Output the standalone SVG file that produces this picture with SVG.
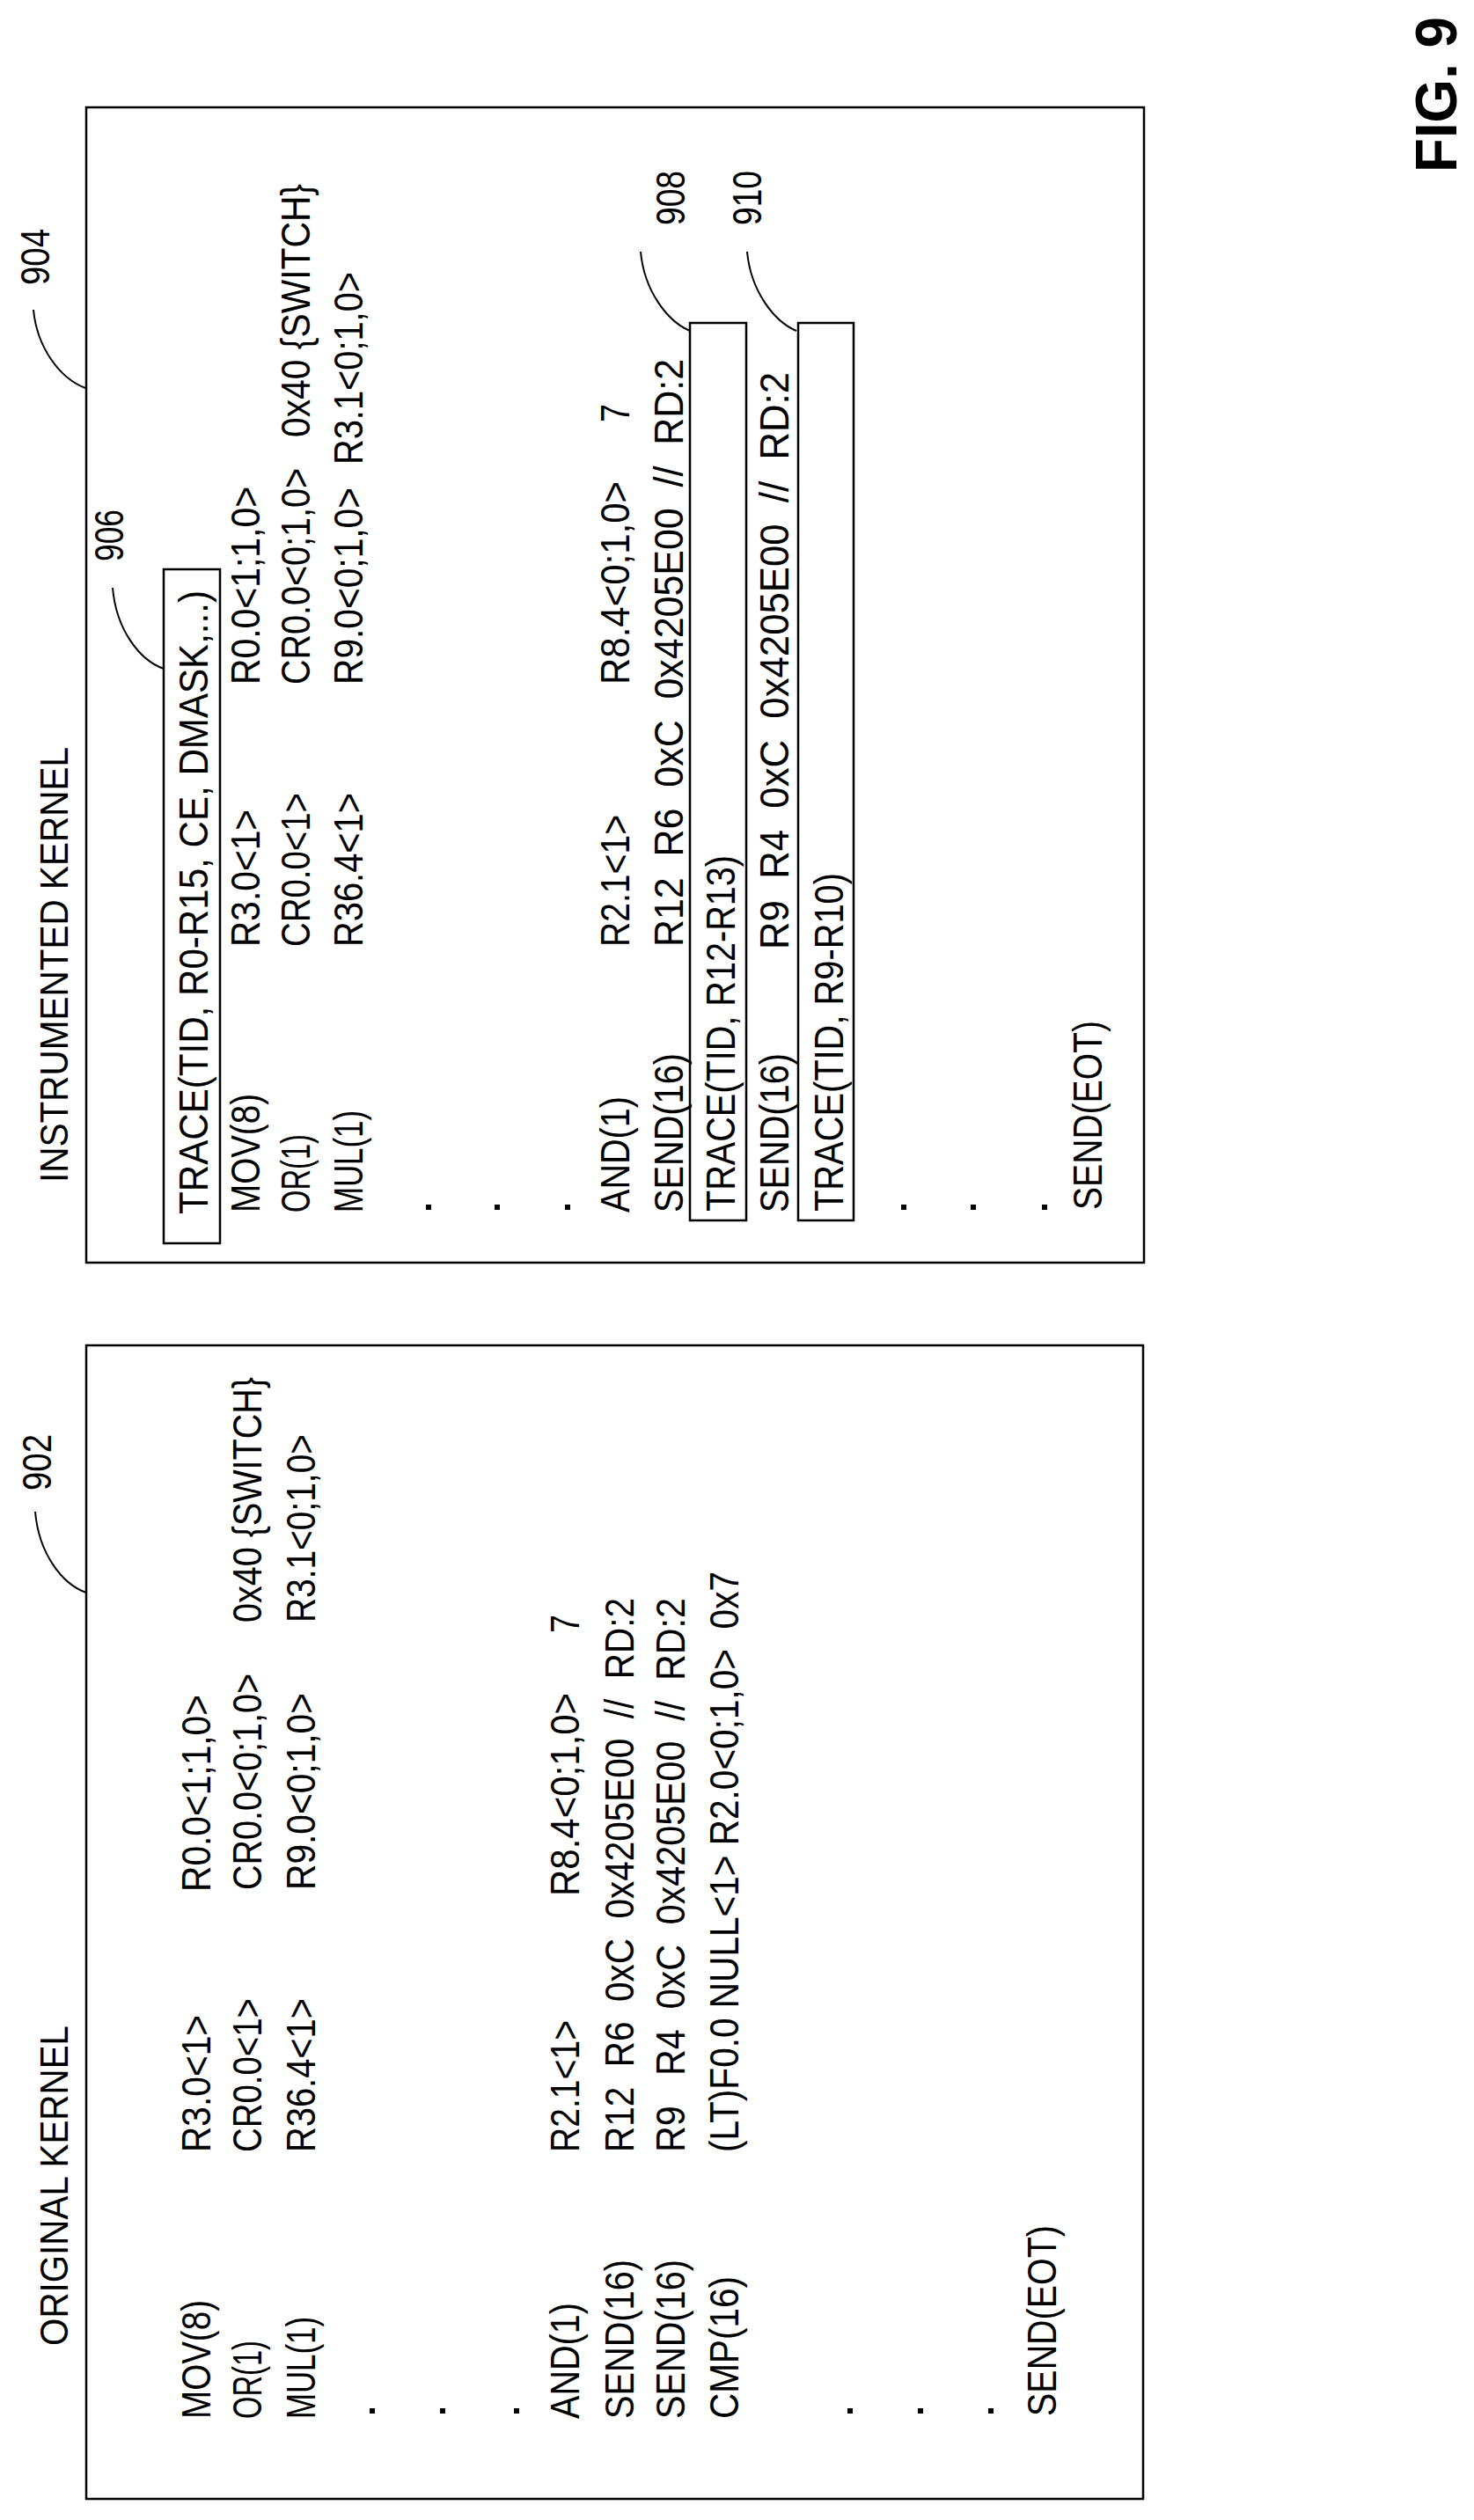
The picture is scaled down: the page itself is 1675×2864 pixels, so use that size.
<svg xmlns="http://www.w3.org/2000/svg" width="1675" height="2864" viewBox="0 0 1675 2864">
<style>
text{font-family:"Liberation Sans",Arial,sans-serif;font-size:46px;fill:#000}
.t{font-size:44px}
.fig{font-size:66px;font-weight:bold}
.box{fill:none;stroke:#000;stroke-width:2.5}
.hl{fill:none;stroke:#000;stroke-width:2.5}
.lead{fill:none;stroke:#000;stroke-width:2}
.dot{fill:#000}
</style>
<rect width="1675" height="2864" fill="#fff"/>

<g id="original-kernel">
<rect class="box" x="98" y="1529" width="1201" height="1311"/>
<text class="t" transform="translate(77,2666) rotate(-90)" textLength="364" lengthAdjust="spacingAndGlyphs">ORIGINAL KERNEL</text>
<text transform="translate(239,2749) rotate(-90)" textLength="135" lengthAdjust="spacingAndGlyphs">MOV(8)</text>
<text transform="translate(297,2749) rotate(-90)" textLength="89" lengthAdjust="spacingAndGlyphs">OR(1)</text>
<text transform="translate(358,2749) rotate(-90)" textLength="116" lengthAdjust="spacingAndGlyphs">MUL(1)</text>
<text transform="translate(658,2749) rotate(-90)" textLength="132" lengthAdjust="spacingAndGlyphs">AND(1)</text>
<text transform="translate(720,2749) rotate(-90)" textLength="181" lengthAdjust="spacingAndGlyphs">SEND(16)</text>
<text transform="translate(778,2749) rotate(-90)" textLength="181" lengthAdjust="spacingAndGlyphs">SEND(16)</text>
<text transform="translate(839,2749) rotate(-90)" textLength="162" lengthAdjust="spacingAndGlyphs">CMP(16)</text>
<text transform="translate(1200,2746) rotate(-90)" textLength="217" lengthAdjust="spacingAndGlyphs">SEND(EOT)</text>
<text transform="translate(239,2446) rotate(-90)" textLength="156" lengthAdjust="spacingAndGlyphs">R3.0&lt;1&gt;</text>
<text transform="translate(297,2446) rotate(-90)" textLength="175" lengthAdjust="spacingAndGlyphs">CR0.0&lt;1&gt;</text>
<text transform="translate(358,2446) rotate(-90)" textLength="175" lengthAdjust="spacingAndGlyphs">R36.4&lt;1&gt;</text>
<text transform="translate(658,2446) rotate(-90)" textLength="150" lengthAdjust="spacingAndGlyphs">R2.1&lt;1&gt;</text>
<text transform="translate(720,2446) rotate(-90)" textLength="630" lengthAdjust="spacingAndGlyphs" xml:space="preserve">R12  R6  0xC  0x4205E00  //  RD:2</text>
<text transform="translate(778,2446) rotate(-90)" textLength="630" lengthAdjust="spacingAndGlyphs" xml:space="preserve">R9   R4  0xC  0x4205E00  //  RD:2</text>
<text transform="translate(839,2446) rotate(-90)" textLength="660" lengthAdjust="spacingAndGlyphs" xml:space="preserve">(LT)F0.0 NULL&lt;1&gt; R2.0&lt;0;1,0&gt;  0x7</text>
<text transform="translate(239,2150) rotate(-90)" textLength="224" lengthAdjust="spacingAndGlyphs">R0.0&lt;1;1,0&gt;</text>
<text transform="translate(297,2148) rotate(-90)" textLength="246" lengthAdjust="spacingAndGlyphs">CR0.0&lt;0;1,0&gt;</text>
<text transform="translate(358,2148) rotate(-90)" textLength="224" lengthAdjust="spacingAndGlyphs">R9.0&lt;0;1,0&gt;</text>
<text transform="translate(658,2155) rotate(-90)" textLength="231" lengthAdjust="spacingAndGlyphs">R8.4&lt;0;1,0&gt;</text>
<text transform="translate(297,1844) rotate(-90)" textLength="279" lengthAdjust="spacingAndGlyphs">0x40 {SWITCH}</text>
<text transform="translate(358,1844) rotate(-90)" textLength="214" lengthAdjust="spacingAndGlyphs">R3.1&lt;0;1,0&gt;</text>
<text transform="translate(658,1856) rotate(-90)" textLength="21" lengthAdjust="spacingAndGlyphs">7</text>
<rect class="dot" x="420" y="2737" width="6" height="6"/>
<rect class="dot" x="500" y="2737" width="6" height="6"/>
<rect class="dot" x="584" y="2737" width="6" height="6"/>
<rect class="dot" x="963" y="2737" width="6" height="6"/>
<rect class="dot" x="1043" y="2737" width="6" height="6"/>
<rect class="dot" x="1123" y="2737" width="6" height="6"/>
</g>

<g id="instrumented-kernel">
<rect class="box" x="98" y="122" width="1202" height="1313"/>
<text class="t" transform="translate(77,1344) rotate(-90)" textLength="495" lengthAdjust="spacingAndGlyphs">INSTRUMENTED KERNEL</text>
<text transform="translate(295,1378) rotate(-90)" textLength="135" lengthAdjust="spacingAndGlyphs">MOV(8)</text>
<text transform="translate(352,1378) rotate(-90)" textLength="89" lengthAdjust="spacingAndGlyphs">OR(1)</text>
<text transform="translate(412,1378) rotate(-90)" textLength="116" lengthAdjust="spacingAndGlyphs">MUL(1)</text>
<text transform="translate(715,1378) rotate(-90)" textLength="132" lengthAdjust="spacingAndGlyphs">AND(1)</text>
<text transform="translate(776,1378) rotate(-90)" textLength="181" lengthAdjust="spacingAndGlyphs">SEND(16)</text>
<text transform="translate(896,1378) rotate(-90)" textLength="181" lengthAdjust="spacingAndGlyphs">SEND(16)</text>
<text transform="translate(1252,1375) rotate(-90)" textLength="215" lengthAdjust="spacingAndGlyphs">SEND(EOT)</text>
<text transform="translate(295,1076) rotate(-90)" textLength="156" lengthAdjust="spacingAndGlyphs">R3.0&lt;1&gt;</text>
<text transform="translate(352,1076) rotate(-90)" textLength="175" lengthAdjust="spacingAndGlyphs">CR0.0&lt;1&gt;</text>
<text transform="translate(412,1076) rotate(-90)" textLength="175" lengthAdjust="spacingAndGlyphs">R36.4&lt;1&gt;</text>
<text transform="translate(715,1076) rotate(-90)" textLength="150" lengthAdjust="spacingAndGlyphs">R2.1&lt;1&gt;</text>
<text transform="translate(776,1076) rotate(-90)" textLength="668" lengthAdjust="spacingAndGlyphs" xml:space="preserve">R12  R6  0xC  0x4205E00  //  RD:2</text>
<text transform="translate(896,1079) rotate(-90)" textLength="656" lengthAdjust="spacingAndGlyphs" xml:space="preserve">R9  R4  0xC  0x4205E00  //  RD:2</text>
<text transform="translate(295,778) rotate(-90)" textLength="225" lengthAdjust="spacingAndGlyphs">R0.0&lt;1;1,0&gt;</text>
<text transform="translate(352,778) rotate(-90)" textLength="246" lengthAdjust="spacingAndGlyphs">CR0.0&lt;0;1,0&gt;</text>
<text transform="translate(412,778) rotate(-90)" textLength="224" lengthAdjust="spacingAndGlyphs">R9.0&lt;0;1,0&gt;</text>
<text transform="translate(715,778) rotate(-90)" textLength="231" lengthAdjust="spacingAndGlyphs">R8.4&lt;0;1,0&gt;</text>
<text transform="translate(352,497) rotate(-90)" textLength="288" lengthAdjust="spacingAndGlyphs">0x40 {SWITCH}</text>
<text transform="translate(412,528) rotate(-90)" textLength="219" lengthAdjust="spacingAndGlyphs">R3.1&lt;0;1,0&gt;</text>
<text transform="translate(715,480) rotate(-90)" textLength="21" lengthAdjust="spacingAndGlyphs">7</text>
<rect class="dot" x="484" y="1369" width="6" height="6"/>
<rect class="dot" x="562" y="1369" width="6" height="6"/>
<rect class="dot" x="642" y="1369" width="6" height="6"/>
<rect class="dot" x="1024" y="1369" width="6" height="6"/>
<rect class="dot" x="1103" y="1369" width="6" height="6"/>
<rect class="dot" x="1184" y="1369" width="6" height="6"/>
</g>

<g id="trace-906">
<rect class="hl" x="186" y="647" width="64" height="766"/>
<text transform="translate(236,1380) rotate(-90)" textLength="709" lengthAdjust="spacingAndGlyphs">TRACE(TID, R0-R15, CE, DMASK,...)</text>
</g>
<g id="trace-908">
<rect class="hl" x="784" y="367" width="64" height="1020"/>
<text transform="translate(835,1377) rotate(-90)" textLength="405" lengthAdjust="spacingAndGlyphs">TRACE(TID, R12-R13)</text>
</g>
<g id="trace-910">
<rect class="hl" x="907" y="367" width="63" height="1020"/>
<text transform="translate(958,1377) rotate(-90)" textLength="385" lengthAdjust="spacingAndGlyphs">TRACE(TID, R9-R10)</text>
</g>

<g id="labels">
<text transform="translate(58,1694) rotate(-90)" textLength="64" lengthAdjust="spacingAndGlyphs">902</text>
<text transform="translate(56,324) rotate(-90)" textLength="64" lengthAdjust="spacingAndGlyphs">904</text>
<text transform="translate(140,638) rotate(-90)" textLength="59" lengthAdjust="spacingAndGlyphs">906</text>
<text transform="translate(778,256) rotate(-90)" textLength="62" lengthAdjust="spacingAndGlyphs">908</text>
<text transform="translate(865,256) rotate(-90)" textLength="62" lengthAdjust="spacingAndGlyphs">910</text>
<text class="fig" transform="translate(1655,196) rotate(-90)" textLength="177" lengthAdjust="spacingAndGlyphs">FIG. 9</text>
</g>

<g id="connectors">
<path class="lead" d="M40,1718 C44,1765 70,1800 98,1810"/>
<path class="lead" d="M38,352 C42,395 68,430 97,441"/>
<path class="lead" d="M128,668 C132,715 158,750 186,760"/>
<path class="lead" d="M728,286 C732,330 758,365 784,376"/>
<path class="lead" d="M849,286 C853,330 879,365 905,376"/>
</g>
</svg>
